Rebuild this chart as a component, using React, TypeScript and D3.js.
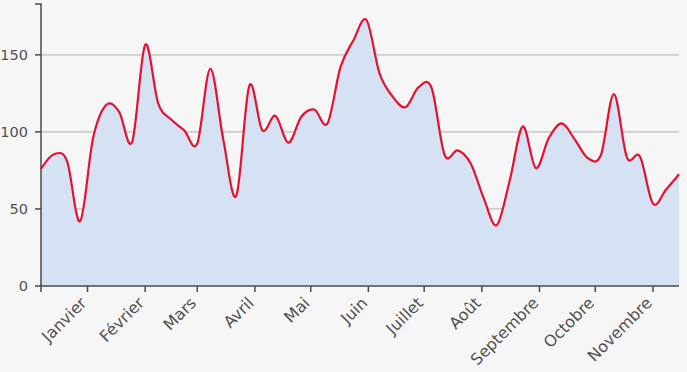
import React from "react";
import * as d3 from "d3";

const dates = [
  "2022-12-07", "2022-12-14", "2022-12-21", "2022-12-28", "2023-01-04", "2023-01-11", "2023-01-18", "2023-01-25",
  "2023-02-01", "2023-02-08", "2023-02-15", "2023-02-22", "2023-03-01", "2023-03-08", "2023-03-15", "2023-03-22",
  "2023-03-29", "2023-04-05", "2023-04-12", "2023-04-19", "2023-04-26", "2023-05-03", "2023-05-10", "2023-05-17",
  "2023-05-24", "2023-05-31", "2023-06-07", "2023-06-14", "2023-06-21", "2023-06-28", "2023-07-05", "2023-07-12",
  "2023-07-19", "2023-07-26", "2023-08-02", "2023-08-09", "2023-08-16", "2023-08-23", "2023-08-30", "2023-09-06",
  "2023-09-13", "2023-09-20", "2023-09-27", "2023-10-04", "2023-10-11", "2023-10-18", "2023-10-25", "2023-11-01",
  "2023-11-08", "2023-11-15",
];

const values = [
  76, 85.5, 81, 42, 96, 117.5, 113, 93.5,
  156.5, 118.5, 108, 101, 92.5, 141, 95, 58.5,
  130, 101, 110.5, 93, 110, 114.5, 105.5, 142,
  159.5, 172.5, 138, 123, 116, 129, 128.5, 85,
  88, 79.5, 57, 39.5, 68.5, 103.5, 76.5, 96,
  105.5, 95, 83, 85, 124.5, 83.5, 84, 53.5,
  62.5, 72.5,
];

const monthTicks = [
  "2023-01-01", "2023-02-01", "2023-03-01", "2023-04-01", "2023-05-01", "2023-06-01",
  "2023-07-01", "2023-08-01", "2023-09-01", "2023-10-01", "2023-11-01",
];
const monthLabels = [
  "Janvier", "Février", "Mars", "Avril", "Mai", "Juin",
  "Juillet", "Août", "Septembre", "Octobre", "Novembre",
];
const yTicks = [0, 50, 100, 150];
const yMax = 183;

const W = 687;
const H = 372;
const M = { left: 41, top: 4, right: 8, bottom: 86 };

export default function App() {
  const parse = d3.utcParse("%Y-%m-%d");
  const data = dates.map((d, i) => ({ date: parse(d) as Date, value: values[i] }));
  const x = d3
    .scaleUtc()
    .domain([data[0].date, data[data.length - 1].date])
    .range([M.left, W - M.right]);
  const y = d3.scaleLinear().domain([0, yMax]).range([H - M.bottom, M.top]);

  const area = d3
    .area<{ date: Date; value: number }>()
    .x((d) => x(d.date))
    .y0(y(0))
    .y1((d) => y(d.value))
    .curve(d3.curveCardinal);
  const line = d3
    .line<{ date: Date; value: number }>()
    .x((d) => x(d.date))
    .y((d) => y(d.value))
    .curve(d3.curveCardinal);

  const x0 = M.left;
  const x1 = W - M.right;
  const yb = y(0);
  const axisColor = "#4a4a4a";
  const textColor = "#505050";
  const font = "'DejaVu Sans', sans-serif";

  return (
    <svg
      width={W}
      height={H}
      style={{ position: "absolute", left: 0, top: 0, background: "#f6f6f6" }}
    >
      <rect x={0} y={0} width={W} height={H} fill="#f6f6f6" />
      {yTicks
        .filter((t) => t > 0)
        .map((t) => (
          <line key={t} x1={x0} x2={x1} y1={y(t)} y2={y(t)} stroke="#bcbcbc" strokeWidth={1.2} />
        ))}
      <path d={area(data) || ""} fill="#d4e2f4" />
      <path d={line(data) || ""} fill="none" stroke="#e5112f" strokeWidth={2.2} />
      {/* y axis */}
      <path d={`M${x0 - 6},${y(yMax)}H${x0}V${yb}`} fill="none" stroke={axisColor} strokeWidth={1.5} />
      {yTicks.map((t) => (
        <g key={t}>
          <line x1={x0 - 6} x2={x0} y1={y(t)} y2={y(t)} stroke={axisColor} strokeWidth={1.5} />
          <text
            x={x0 - 13}
            y={y(t)}
            dy="0.36em"
            textAnchor="end"
            fontFamily={font}
            fontSize={14.5}
            fill={textColor}
          >
            {t}
          </text>
        </g>
      ))}
      {/* x axis */}
      <path d={`M${x0},${yb + 6}V${yb}H${x1}`} fill="none" stroke={axisColor} strokeWidth={1.5} />
      {monthTicks.map((m, i) => {
        const tx = x(parse(m) as Date);
        return (
          <g key={m}>
            <line x1={tx} x2={tx} y1={yb} y2={yb + 6} stroke={axisColor} strokeWidth={1.5} />
            <text
              transform={`translate(${tx},${yb + 18}) rotate(-45)`}
              textAnchor="end"
              fontFamily={font}
              fontSize={16}
              fill={textColor}
            >
              {monthLabels[i]}
            </text>
          </g>
        );
      })}
    </svg>
  );
}
